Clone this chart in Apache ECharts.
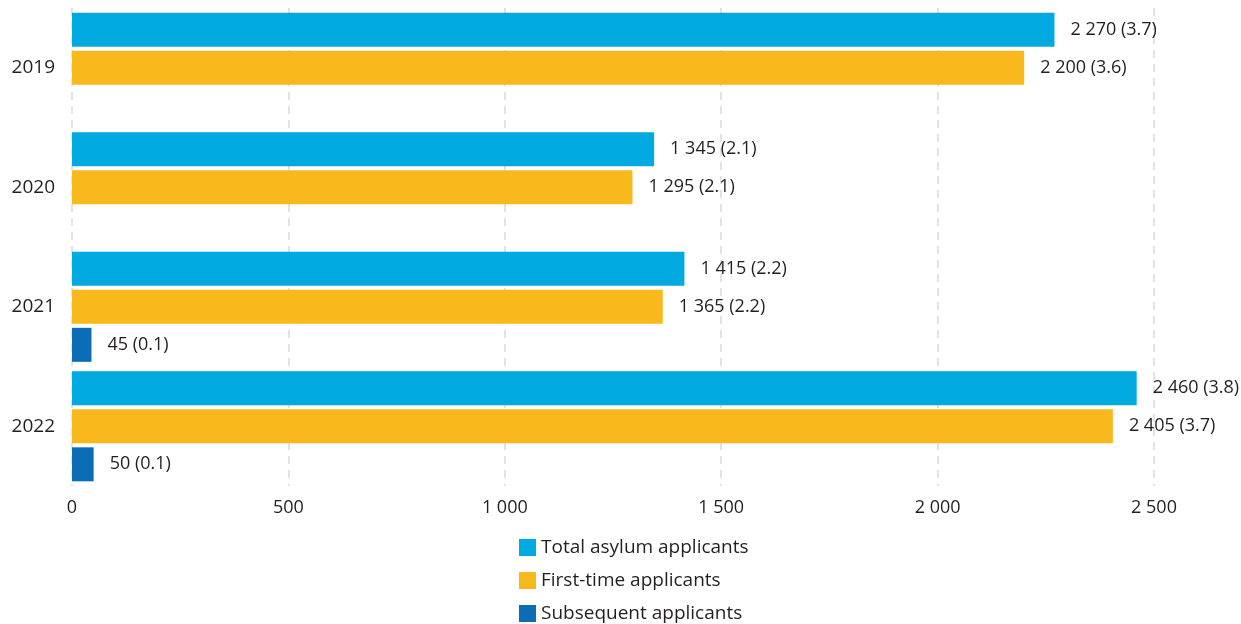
<!DOCTYPE html>
<html><head><meta charset="utf-8">
<script src="https://cdn.jsdelivr.net/npm/echarts@6/dist/echarts.min.js"></script>
<style>html,body{margin:0;padding:0;background:#fff}#c{width:1241px;height:624px}</style>
</head><body><div id="c"></div>
<script>
const years = ['2019', '2020', '2021', '2022'];
const totalApplicants = [2270, 1345, 1415, 2460];
const totalShare = [3.7, 2.1, 2.2, 3.8];
const firstTime = [2200, 1295, 1365, 2405];
const firstShare = [3.6, 2.1, 2.2, 3.7];
const subsequent = [null, null, 45, 50];
const subsequentShare = [null, null, 0.1, 0.1];
const xTicks = [0, 500, 1000, 1500, 2000, 2500];

const FONT = '"Open Sans", "Noto Sans", sans-serif';
function fmt(v) { return String(v).replace(/\B(?=(\d{3})+(?!\d))/g, ' '); }
function labelFor(shares) {
  return {
    show: true, position: 'right', distance: 16,
    color: '#231f20', fontSize: 18, fontFamily: FONT,
    formatter: p => fmt(p.value) + ' (' + shares[p.dataIndex].toFixed(1) + ')'
  };
}
const chart = echarts.init(document.getElementById('c'), null, {renderer: 'canvas'});
chart.setOption({
  animation: false,
  textStyle: {fontFamily: FONT},
  grid: {left: 72, right: 87, top: 8, bottom: 138, containLabel: false},
  legend: {
    orient: 'vertical', left: 514, top: 533, height: 100,
    itemWidth: 17, itemHeight: 17, itemGap: 14,
    icon: 'rect',
    textStyle: {fontSize: 19, color: '#231f20', fontFamily: FONT, padding: [0, 0, 0, 0]},
    data: ['Total asylum applicants', 'First-time applicants', 'Subsequent applicants']
  },
  xAxis: {
    type: 'value', min: xTicks[0], max: xTicks[xTicks.length - 1], interval: 500,
    axisLine: {show: false}, axisTick: {show: false},
    axisLabel: {color: '#231f20', fontSize: 18, margin: 13, formatter: v => fmt(v)},
    splitLine: {show: true, lineStyle: {color: '#d9d9d9', type: [8, 6], width: 1.5}}
  },
  yAxis: {
    type: 'category', data: years, inverse: true,
    axisLine: {show: false}, axisTick: {show: false},
    axisLabel: {color: '#231f20', fontSize: 19, margin: 17}
  },
  series: [
    {name: 'Total asylum applicants', type: 'bar', data: totalApplicants, barWidth: 34, barGap: '12%',
     itemStyle: {color: '#00a9e0'}, label: labelFor(totalShare)},
    {name: 'First-time applicants', type: 'bar', data: firstTime, barWidth: 34, barGap: '12%',
     itemStyle: {color: '#f9b91d'}, label: labelFor(firstShare)},
    {name: 'Subsequent applicants', type: 'bar', data: subsequent, barWidth: 34, barGap: '12%',
     itemStyle: {color: '#0a6db5'}, label: labelFor(subsequentShare)}
  ]
});
</script></body></html>
